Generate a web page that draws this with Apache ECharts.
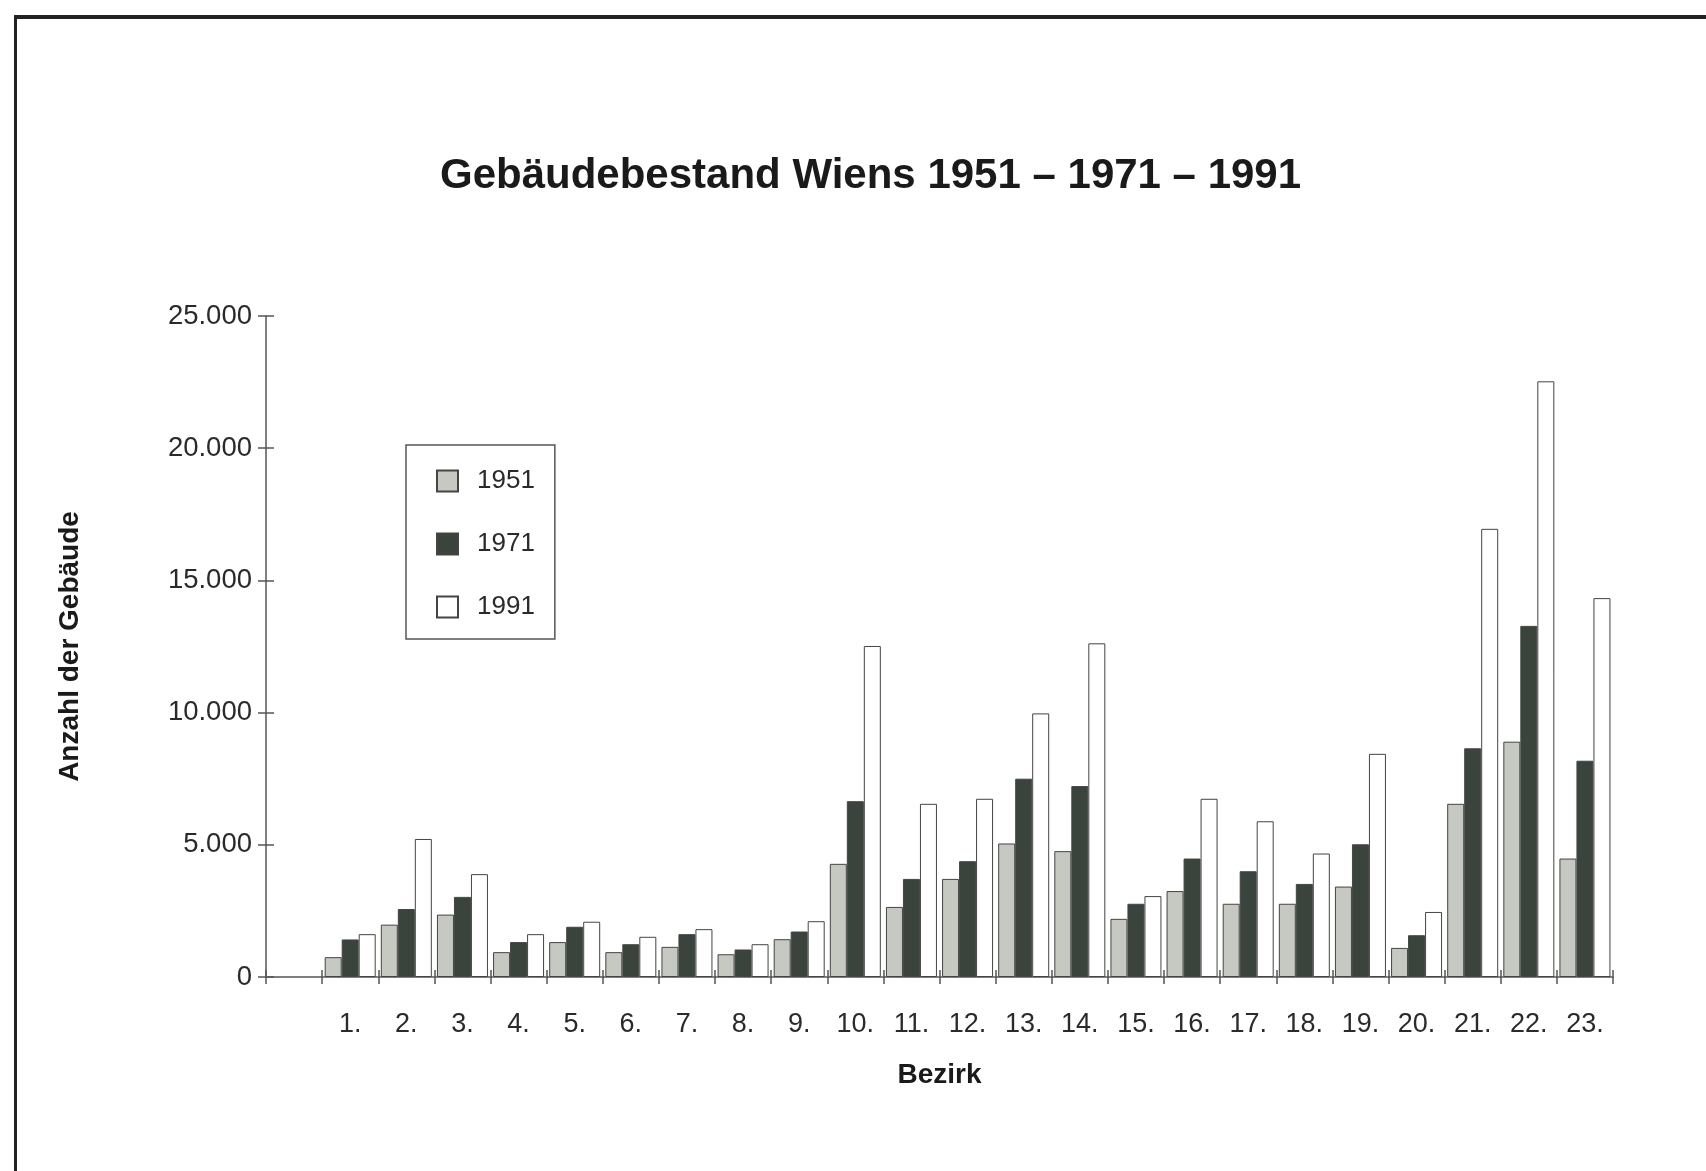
<!DOCTYPE html>
<html>
<head>
<meta charset="utf-8">
<script src="https://cdn.jsdelivr.net/npm/echarts@6/dist/echarts.min.js"></script>
<style>
html,body{margin:0;padding:0;background:#fff;}
#c{width:1706px;height:1171px;}
</style>
</head>
<body>
<div id="c"></div>
<script>
const categories = ['1.','2.','3.','4.','5.','6.','7.','8.','9.','10.','11.','12.','13.','14.','15.','16.','17.','18.','19.','20.','21.','22.','23.'];
const seriesNames = ['1951','1971','1991'];
const v1951 = [750,1980,2360,940,1320,940,1140,860,1430,4280,2650,3710,5050,4760,2200,3250,2770,2770,3420,1100,6550,8900,4480];
const v1971 = [1420,2570,3030,1320,1900,1240,1620,1040,1720,6650,3710,4380,7500,7220,2770,4480,4000,3520,5020,1580,8650,13280,8180];
const v1991 = [1620,5220,3890,1620,2090,1520,1810,1240,2110,12520,6550,6740,9970,12620,3060,6740,5890,4670,8440,2460,16950,22530,14330];
const yTicks = [0,5000,10000,15000,20000,25000];

const FONT = '"Liberation Sans", Arial, Helvetica, sans-serif';
const axisData = [''].concat(categories);
const pad = arr => [null].concat(arr);
const fills = ['#c6c9c1', '#3b433d', '#ffffff'];
const values = [v1951, v1971, v1991];

const chart = echarts.init(document.getElementById('c'), null, {renderer: 'canvas'});
const fmt = v => v === 0 ? '0' : String(v).replace(/\B(?=(\d{3})+(?!\d))/g, '.');

const option = {
  backgroundColor: '#ffffff',
  textStyle: {fontFamily: FONT},
  animation: false,
  title: {
    text: 'Gebäudebestand Wiens 1951 – 1971 – 1991',
    left: 440, top: 155, padding: 0,
    textStyle: {fontFamily: FONT, fontSize: 42, fontWeight: 'bold', color: '#1a1a1a'}
  },
  graphic: [
    {type: 'line', shape: {x1: 14, y1: 17, x2: 1706, y2: 17}, style: {stroke: '#222', lineWidth: 4}},
    {type: 'line', shape: {x1: 15.5, y1: 15, x2: 15.5, y2: 1171}, style: {stroke: '#222', lineWidth: 3}}
  ],
  legend: {
    orient: 'vertical',
    left: 406, top: 445,
    padding: [23, 20, 19, 30],
    itemGap: 37,
    itemWidth: 21, itemHeight: 21,
    borderColor: '#555', borderWidth: 1.5,
    icon: 'rect',
    textStyle: {fontFamily: FONT, fontSize: 26, color: '#2a2a2a', padding: [0, 0, 0, 14]},
    data: seriesNames
  },
  grid: {left: 266, right: 93, top: 316, bottom: 194, containLabel: false},
  xAxis: [
    {
      type: 'category', data: axisData, boundaryGap: true,
      axisLine: {show: true, lineStyle: {color: '#555', width: 1.5}},
      axisTick: {show: true, interval: 0, length: 7, lineStyle: {color: '#555', width: 1.5}},
      axisLabel: {interval: 0, margin: 34, fontSize: 27, color: '#2a2a2a', fontFamily: FONT},
      splitLine: {show: false},
      name: 'Bezirk', nameLocation: 'middle', nameGap: 84,
      nameTextStyle: {fontFamily: FONT, fontSize: 28, fontWeight: 'bold', color: '#1a1a1a'}
    },
    {
      type: 'category', data: axisData, boundaryGap: true, position: 'bottom',
      axisLine: {show: false},
      axisTick: {show: true, inside: true, interval: 0, length: 7, lineStyle: {color: '#555', width: 1.5}},
      axisLabel: {show: false}, splitLine: {show: false}
    }
  ],
  yAxis: [
    {
      type: 'value', min: yTicks[0], max: yTicks[yTicks.length - 1], interval: 5000,
      axisLine: {show: true, lineStyle: {color: '#555', width: 1.5}},
      axisTick: {show: true, length: 8, lineStyle: {color: '#555', width: 1.5}},
      axisLabel: {formatter: fmt, fontSize: 27.5, margin: 14, color: '#2a2a2a', fontFamily: FONT},
      splitLine: {show: false},
      name: 'Anzahl der Gebäude', nameLocation: 'middle', nameRotate: 90, nameGap: 182,
      nameTextStyle: {fontFamily: FONT, fontSize: 28, fontWeight: 'bold', color: '#1a1a1a'}
    },
    {
      type: 'value', min: yTicks[0], max: yTicks[yTicks.length - 1], interval: 5000, position: 'left',
      axisLine: {show: false},
      axisTick: {show: true, inside: true, length: 8, lineStyle: {color: '#555', width: 1.5}},
      axisLabel: {show: false}, splitLine: {show: false}
    }
  ],
  series: seriesNames.map((name, i) => ({
    name: name, type: 'bar', xAxisIndex: 0, yAxisIndex: 0,
    data: pad(values[i]),
    barWidth: 17, barGap: '0%',
    itemStyle: {color: fills[i], borderColor: '#444', borderWidth: 1}
  }))
};
chart.setOption(option);
</script>
</body>
</html>
